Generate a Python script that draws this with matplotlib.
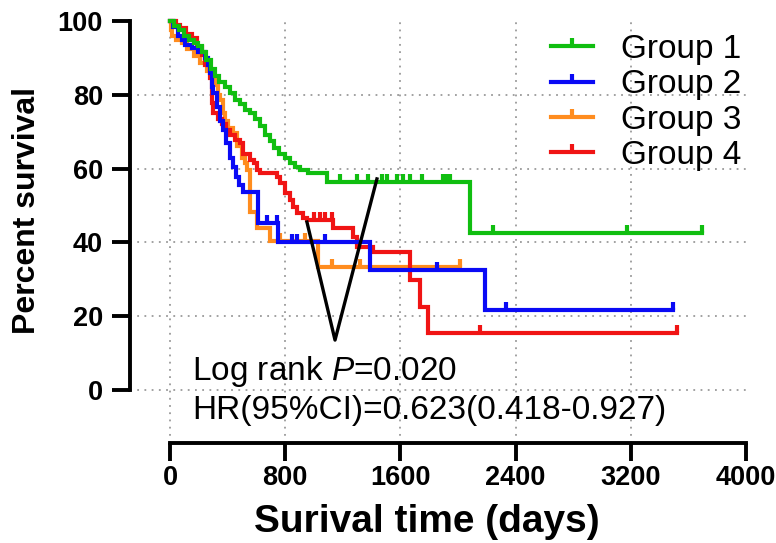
import numpy as np
import matplotlib
matplotlib.use("Agg")
import matplotlib.pyplot as plt
from matplotlib.lines import Line2D

plt.rcParams['font.family'] = ['Liberation Sans', 'DejaVu Sans']
plt.rcParams['mathtext.fontset'] = 'custom'
plt.rcParams['mathtext.rm'] = 'Liberation Sans'
plt.rcParams['mathtext.it'] = 'Liberation Sans:italic'

# ---------------------------------------------------------------
# Kaplan-Meier steps (days, percent survival)
# ---------------------------------------------------------------
g1_t = [0, 30, 62, 95, 130, 165, 194, 222, 252, 283, 312, 340, 382, 417, 448, 485,
        520, 555, 590, 625, 660, 694, 725, 760, 800, 833, 870, 903, 960, 1090, 2083]
g1_s = [100, 98.6, 97.5, 96, 95, 94, 93.3, 91.5, 89.5, 87, 85, 83.5, 82, 80.5, 78.5, 77.5,
        76, 75, 73.5, 71.5, 69, 67.5, 65.5, 64, 63, 61.5, 60.5, 59.6, 58.8, 56.4, 42.5]
g1_end = 3694
g1_cens = [1181, 1299, 1375, 1472, 1507, 1576, 1618, 1667, 1750, 1896, 1924, 1944,
           2243, 3174, 3694]

g2_t = [0, 20, 56, 80, 104, 153, 194, 243, 262, 278, 292, 300, 325, 347, 368, 389,
        417, 438, 458, 480, 507, 611, 750, 1389, 2188]
g2_s = [100, 98.5, 96, 95, 93.5, 92.7, 91.6, 90, 88, 86, 82, 80.5, 76.7, 73, 70.5, 67,
        63, 60.4, 57.7, 55.5, 53.7, 45.3, 40, 32.5, 21.7]
g2_end = 3493
g2_cens = [674, 743, 847, 882, 1076, 1854, 2333, 3493]

g3_t = [0, 8, 14, 45, 80, 120, 165, 210, 255, 290, 312, 333, 350, 368, 385, 403,
        438, 465, 500, 520, 535, 556, 604, 694, 1028]
g3_s = [100, 97.5, 96, 95, 94, 92.5, 90.5, 88.5, 86.5, 84.5, 82.6, 80, 78.5, 75, 73, 71,
        69.6, 66, 63, 61.5, 59.6, 48.2, 44, 40.5, 33.3]
g3_end = 2014
g3_cens = [764, 937, 1125, 1319, 2014]

g4_t = [0, 40, 69, 110, 153, 190, 222, 243, 278, 292, 300, 330, 360, 392, 420, 451,
        486, 507, 556, 580, 604, 625, 743, 764, 799, 833, 854, 882, 924, 951, 1132,
        1271, 1299, 1410, 1667, 1736, 1792]
g4_s = [100, 99, 98, 96.5, 95.4, 93, 90.8, 88, 84.5, 77.8, 75, 73.5, 72, 70.5, 69, 67.8,
        67, 64, 62.3, 61.5, 59.6, 58.8, 57.7, 56, 53.4, 51.5, 49.6, 48, 46.6, 46, 43.9,
        41.5, 38.8, 37.4, 29.8, 22.5, 15.4]
g4_end = 3521
g4_cens = [1000, 1042, 1076, 1125, 2153, 3521]

group_names = ['Group 1', 'Group 2', 'Group 3', 'Group 4']
group_colors = ['#10BE10', '#0A0AF5', '#FF8C1E', '#F01414']

# black V drawn over the curves
v_x = [951, 1146, 1437]
v_y = [45.5, 13.5, 57.2]

x_ticks = [0, 800, 1600, 2400, 3200, 4000]
y_ticks = [0, 20, 40, 60, 80, 100]
x_grid = [0, 800, 1600, 2400, 3200]
y_grid = [0, 20, 40, 60, 80]

# ---------------------------------------------------------------
fig = plt.figure(figsize=(7.76, 5.43), dpi=100)
ax = fig.add_axes([0.1675, 0.1842, 0.7938, 0.7838])
ax.set_xlim(-278, 4000)
ax.set_ylim(-14.4, 101)

for gx in x_grid:
    ax.axvline(gx, color='#9a9a9a', lw=1.3, ls=(0, (1, 3)), zorder=0)
for gy in y_grid:
    ax.axhline(gy, color='#9a9a9a', lw=1.3, ls=(0, (1, 3)), zorder=0)

groups = [
    (g1_t, g1_s, g1_end, g1_cens, 6),
    (g2_t, g2_s, g2_end, g2_cens, 5),
    (g3_t, g3_s, g3_end, g3_cens, 3),
    (g4_t, g4_s, g4_end, g4_cens, 4),
]

for (t, s, end, cens, z), col in zip(groups, group_colors):
    tt = list(t) + [end]
    ss = list(s) + [s[-1]]
    ax.step(tt, ss, where='post', color=col, lw=3.0, zorder=z, clip_on=False,
            solid_joinstyle='miter')
    idx = np.searchsorted(t, cens, side='right') - 1
    cy = np.array(s)[idx]
    ax.plot(cens, cy, ls='none', marker=2, ms=5.5, mew=3.0, color=col, zorder=z,
            clip_on=False)

ax.plot(v_x, v_y, color='black', lw=2.4, zorder=7)

ax.text(153, 2.7, 'Log rank $\\mathit{P}$=0.020', fontsize=24, va='baseline')
ax.text(153, -7.9, 'HR(95%CI)=0.623(0.418-0.927)', fontsize=24, va='baseline')

# spines, GraphPad style
for side in ['top', 'right']:
    ax.spines[side].set_visible(False)
ax.spines['left'].set_bounds(0, 100)
ax.spines['bottom'].set_bounds(0, 4000)
ax.spines['left'].set_linewidth(2.8)
ax.spines['bottom'].set_linewidth(2.8)
ax.set_xticks(x_ticks)
ax.set_yticks(y_ticks)
ax.tick_params(axis='both', length=13, width=2.8, labelsize=19.5)
ax.tick_params(axis='x', pad=3)
ax.tick_params(axis='y', pad=6.5)
for lab in ax.get_xticklabels() + ax.get_yticklabels():
    lab.set_fontweight('bold')

fig.text(427 / 776, 1 - 522 / 543, 'Surival time (days)', fontsize=28,
         fontweight='bold', ha='center', va='center')
fig.text(27 / 776, 1 - 210 / 543, 'Percent survival', fontsize=23,
         fontweight='bold', ha='center', va='center', rotation=90)

handles = [Line2D([], [], color=c, lw=3.0, marker=2, ms=5.5, mew=3.0) for c in group_colors]
ax.legend(handles, group_names, loc='upper left', bbox_to_anchor=(0.688, 0.968),
          bbox_transform=fig.transFigure, frameon=False, fontsize=24,
          handlelength=1.27, handletextpad=0.85, labelspacing=0.13, borderpad=0,
          numpoints=1)

fig.savefig('out.png', dpi=100)
